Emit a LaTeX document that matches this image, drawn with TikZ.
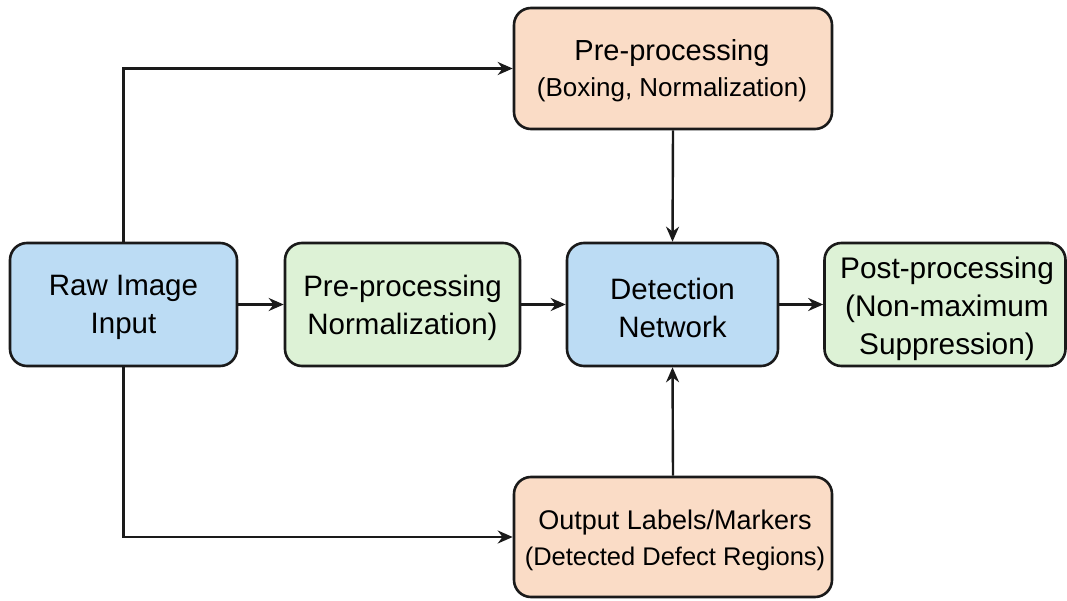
\documentclass[tikz,border=0pt]{standalone}
\usepackage{fontspec}
\setmainfont{Liberation Sans}
\usetikzlibrary{arrows.meta}
\definecolor{bluefill}{HTML}{BCDCF4}
\definecolor{greenfill}{HTML}{DDF2D6}
\definecolor{peachfill}{HTML}{FADCC6}
\definecolor{edge}{HTML}{1A1A1A}
\newcommand{\fs}[1]{\fontsize{#1}{38}\selectfont}
\tikzset{
  box/.style={draw=edge, line width=2.6pt, rounded corners=17pt, align=center,
    font=\fs{29.5}, text=black, inner sep=0pt},
  bluebox/.style={box, fill=bluefill},
  greenbox/.style={box, fill=greenfill},
  peachbox/.style={box, fill=peachfill},
  label/.style={align=center, font=\fs{29.5}, inner sep=0pt},
  conn/.style={draw=edge, line width=2.4pt, -{Stealth[length=15pt,width=13pt]}}
}
\begin{document}
\begin{tikzpicture}[x=1pt,y=-1pt]
\useasboundingbox (0,0) rectangle (1067,601);
\fill[white] (0,0) rectangle (1067,601);
\node[bluebox, minimum width=227pt, minimum height=123pt] (raw) at (123.5,304.5) {};
\node[label] (rawt) at (123.5,307.5) {Raw Image\\Input};
\node[greenbox, minimum width=235pt, minimum height=123pt] (pre) at (402.5,304.5) {};
\node[label] (pret) at (402.5,307.5) {Pre-processing\\Normalization)};
\node[bluebox, minimum width=211pt, minimum height=123pt] (det) at (672.5,304.5) {};
\node[label] (dett) at (672.5,307.5) {Detection\\Network};
\node[greenbox, minimum width=241pt, minimum height=123pt] (post) at (945,304.5) {};
\node[label, font=\fs{29.8}] (postt) at (947,308.5) {Post-processing\\(Non-maximum\\Suppression)};
\node[peachbox, minimum width=318pt, minimum height=121pt] (top) at (673,68.5) {};
\node[label, font=\fs{29}] (topt) at (672,71) {Pre-processing\\[-2pt]{\fs{26}(Boxing, Normalization)}};
\node[peachbox, minimum width=318pt, minimum height=120pt] (bot) at (673,537) {};
\node[label, font=\fs{27}] (bott) at (675,540) {Output Labels/Markers\\[-2pt]{\fs{25.5}(Detected Defect Regions)}};
\draw[conn] (raw.east) -- (pre.west);
\draw[conn] (pre.east) -- (det.west);
\draw[conn] (det.east) -- (post.west);
\draw[conn] (top.south) -- (det.north);
\draw[conn] (bot.north) -- (det.south);
\draw[conn] (raw.north) |- (top.west);
\draw[conn] (raw.south) |- (bot.west);
\end{tikzpicture}
\end{document}
